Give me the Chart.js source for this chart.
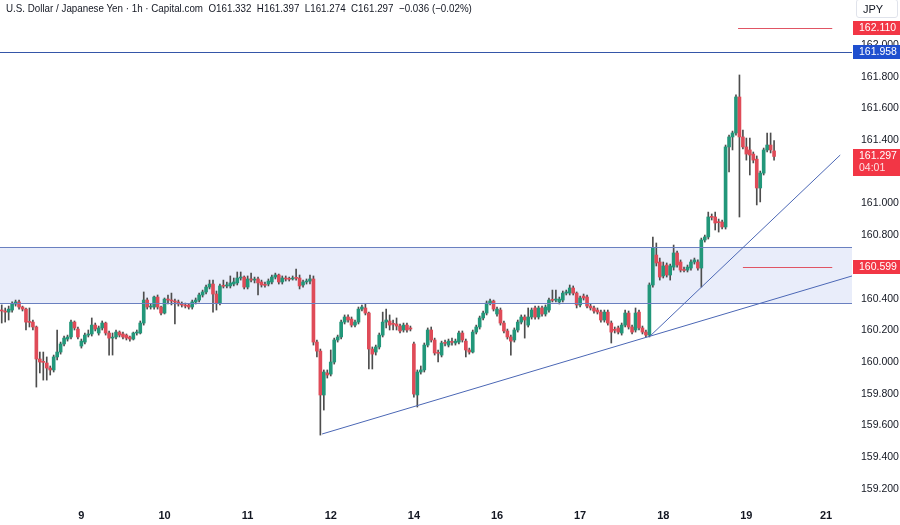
<!DOCTYPE html>
<html>
<head>
<meta charset="utf-8">
<script src="https://cdn.jsdelivr.net/npm/chart.js@4.4.1/dist/chart.umd.min.js"></script>
<style>
  html, body { margin: 0; padding: 0; background: #fff; }
  #wrap { position: relative; width: 900px; height: 525px; overflow: hidden; }
  #header { position: absolute; left: 6px; top: 2px; font: 11px "Liberation Sans", Arial, sans-serif; color: #131722; white-space: pre; transform: scaleX(0.89); transform-origin: 0 0; }
  #unit { position: absolute; left: 856px; top: -1px; width: 42px; height: 19px; border: 1px solid #e0e3eb; border-radius: 3px; box-sizing: border-box; font: 11px "Liberation Sans", Arial, sans-serif; color: #131722; padding: 3px 0 0 6px; }
</style>
</head>
<body>
<div id="wrap">
  <canvas id="chart" width="900" height="525"></canvas>
  <div id="header">U.S. Dollar / Japanese Yen · 1h · Capital.com  O161.332  H161.397  L161.274  C161.297  −0.036 (−0.02%)</div>
  <div id="unit">JPY</div>
</div>
<script>
// hourly candles
const open = [
160.328,160.322,160.315,160.328,160.366,160.379,160.347,160.334,160.252,160.252,
160.221,160.019,160.000,159.994,159.962,159.950,160.032,160.063,160.114,160.145,
160.158,160.252,160.208,160.101,160.126,160.170,160.177,160.233,160.183,160.215,
160.246,160.183,160.151,160.158,160.189,160.177,160.170,160.158,160.145,160.183,
160.183,160.246,160.391,160.347,160.347,160.410,160.347,160.309,160.397,160.391,
160.385,160.379,160.366,160.360,160.360,160.347,160.379,160.391,160.423,160.442,
160.473,160.492,160.429,160.372,160.480,160.480,160.480,160.492,160.499,160.530,
160.536,160.473,160.524,160.517,160.524,160.505,160.486,160.492,160.505,160.536,
160.549,160.505,160.530,160.524,160.524,160.530,160.530,160.486,160.505,160.511,
160.524,160.126,160.069,159.792,159.931,159.924,160.000,160.139,160.158,160.252,
160.284,160.271,160.233,160.252,160.334,160.341,160.309,160.082,160.063,160.095,
160.170,160.252,160.259,160.240,160.240,160.227,160.202,160.233,160.215,160.114,
159.792,159.937,159.950,160.107,160.202,160.139,160.057,160.044,160.120,160.107,
160.126,160.120,160.126,160.183,160.132,160.076,160.063,160.189,160.221,160.278,
160.309,160.372,160.385,160.303,160.328,160.246,160.196,160.158,160.139,160.202,
160.252,160.284,160.233,160.284,160.341,160.284,160.341,160.303,160.328,160.391,
160.391,160.379,160.391,160.435,160.435,160.467,160.435,160.360,160.416,160.410,
160.353,160.341,160.328,160.315,160.265,160.315,160.246,160.202,160.215,160.183,
160.233,160.309,160.221,160.202,160.315,160.215,160.189,160.170,160.486,160.675,
160.631,160.543,160.612,160.549,160.599,160.688,160.631,160.580,160.580,160.593,
160.631,160.631,160.593,160.770,160.789,160.915,160.915,160.883,160.883,160.852,
161.357,161.420,161.445,161.672,161.420,161.357,161.338,161.312,161.280,161.098,
161.192,161.338,161.369,161.332
];
const high = [
160.360,160.341,160.353,160.379,160.391,160.391,160.353,160.341,160.341,160.265,
160.227,160.063,160.063,160.032,159.975,160.044,160.202,160.126,160.164,160.170,
160.265,160.259,160.221,160.145,160.183,160.202,160.278,160.246,160.227,160.259,
160.252,160.196,160.183,160.202,160.196,160.189,160.177,160.164,160.189,160.202,
160.259,160.442,160.404,160.366,160.416,160.423,160.353,160.404,160.423,160.435,
160.397,160.391,160.379,160.372,160.366,160.391,160.404,160.435,160.454,160.486,
160.517,160.517,160.448,160.492,160.517,160.505,160.543,160.530,160.568,160.568,
160.543,160.543,160.561,160.536,160.536,160.517,160.505,160.524,160.549,160.561,
160.555,160.543,160.543,160.536,160.543,160.587,160.549,160.517,160.524,160.549,
160.543,160.139,160.082,159.950,159.950,160.076,160.151,160.170,160.265,160.297,
160.297,160.284,160.265,160.347,160.360,160.366,160.315,160.095,160.107,160.183,
160.315,160.334,160.297,160.265,160.278,160.240,160.246,160.246,160.227,160.126,
159.950,159.975,160.120,160.215,160.221,160.151,160.076,160.132,160.139,160.145,
160.151,160.145,160.196,160.196,160.145,160.088,160.202,160.233,160.290,160.322,
160.385,160.397,160.391,160.347,160.341,160.259,160.208,160.170,160.215,160.265,
160.297,160.297,160.341,160.341,160.353,160.353,160.353,160.360,160.404,160.454,
160.454,160.410,160.448,160.454,160.486,160.480,160.442,160.416,160.429,160.423,
160.366,160.353,160.341,160.328,160.328,160.328,160.259,160.221,160.227,160.246,
160.328,160.322,160.233,160.341,160.328,160.227,160.202,160.499,160.789,160.751,
160.656,160.631,160.625,160.618,160.738,160.700,160.644,160.599,160.612,160.644,
160.656,160.644,160.782,160.801,160.946,160.934,160.946,160.902,160.896,161.369,
161.432,161.457,161.685,161.811,161.464,161.413,161.413,161.325,161.300,161.205,
161.350,161.445,161.445,161.397
];
const low = [
160.246,160.252,160.265,160.315,160.353,160.334,160.322,160.202,160.221,160.202,
159.842,159.931,159.886,159.886,159.918,159.937,160.013,160.050,160.101,160.132,
160.145,160.202,160.145,160.088,160.114,160.158,160.164,160.196,160.170,160.202,
160.170,160.044,160.044,160.145,160.158,160.145,160.139,160.132,160.139,160.170,
160.177,160.233,160.334,160.334,160.334,160.334,160.297,160.303,160.366,160.360,
160.240,160.353,160.347,160.341,160.334,160.334,160.366,160.379,160.410,160.429,
160.461,160.315,160.328,160.360,160.467,160.467,160.467,160.480,160.486,160.517,
160.461,160.461,160.505,160.499,160.423,160.473,160.473,160.480,160.492,160.524,
160.492,160.492,160.511,160.511,160.517,160.517,160.461,160.473,160.492,160.492,
160.107,160.032,159.539,159.697,159.899,159.912,159.987,160.126,160.145,160.240,
160.252,160.221,160.221,160.240,160.322,160.297,159.956,159.956,160.044,160.082,
160.158,160.215,160.202,160.202,160.202,160.183,160.189,160.189,160.196,159.779,
159.716,159.924,159.937,160.095,160.126,160.044,160.000,160.032,160.101,160.095,
160.107,160.107,160.114,160.126,160.032,160.050,160.057,160.177,160.208,160.265,
160.297,160.360,160.322,160.290,160.233,160.183,160.145,160.044,160.126,160.189,
160.240,160.151,160.221,160.271,160.271,160.271,160.290,160.290,160.315,160.379,
160.379,160.366,160.379,160.423,160.423,160.423,160.341,160.347,160.391,160.341,
160.328,160.309,160.303,160.252,160.252,160.233,160.120,160.183,160.177,160.170,
160.221,160.208,160.177,160.189,160.202,160.177,160.158,160.158,160.473,160.606,
160.517,160.530,160.536,160.517,160.580,160.599,160.568,160.568,160.568,160.580,
160.618,160.580,160.473,160.757,160.776,160.896,160.833,160.820,160.839,160.839,
161.199,161.338,161.432,160.915,161.344,161.274,161.180,161.256,160.991,161.010,
161.180,161.325,161.319,161.274
];
const close = [
160.322,160.315,160.334,160.366,160.379,160.347,160.334,160.252,160.250,160.221,
160.019,160.000,159.998,159.962,159.950,160.032,160.063,160.114,160.151,160.158,
160.252,160.215,160.158,160.132,160.170,160.177,160.233,160.208,160.215,160.246,
160.183,160.151,160.153,160.189,160.170,160.158,160.151,160.145,160.183,160.189,
160.246,160.391,160.347,160.349,160.410,160.347,160.309,160.397,160.391,160.385,
160.379,160.366,160.360,160.353,160.347,160.379,160.391,160.423,160.442,160.473,
160.492,160.429,160.372,160.480,160.478,160.486,160.499,160.505,160.530,160.536,
160.473,160.524,160.517,160.519,160.499,160.486,160.484,160.511,160.536,160.549,
160.505,160.530,160.524,160.522,160.530,160.528,160.480,160.505,160.511,160.524,
160.126,160.069,159.792,159.937,159.918,160.000,160.139,160.158,160.252,160.284,
160.265,160.233,160.252,160.334,160.347,160.309,160.082,160.050,160.095,160.170,
160.252,160.265,160.233,160.238,160.227,160.196,160.233,160.202,160.208,159.798,
159.937,159.950,160.107,160.202,160.139,160.057,160.055,160.120,160.118,160.132,
160.124,160.132,160.183,160.139,160.076,160.063,160.189,160.221,160.278,160.309,
160.372,160.385,160.334,160.334,160.246,160.196,160.158,160.132,160.202,160.252,
160.284,160.265,160.284,160.328,160.284,160.341,160.303,160.347,160.391,160.389,
160.393,160.397,160.435,160.442,160.467,160.435,160.360,160.404,160.404,160.353,
160.341,160.322,160.315,160.265,160.315,160.246,160.189,160.200,160.189,160.233,
160.309,160.221,160.189,160.309,160.215,160.189,160.170,160.486,160.719,160.625,
160.536,160.606,160.549,160.606,160.688,160.612,160.580,160.578,160.599,160.631,
160.644,160.593,160.770,160.789,160.915,160.913,160.877,160.879,160.852,161.357,
161.420,161.445,161.672,161.420,161.357,161.312,161.306,161.274,161.098,161.192,
161.338,161.369,161.338,161.297
];

// x axis: hourly slots incl. empty future space, day labels
const slotCount = 246;
const dayLabels = ['9', '10', '11', '12', '14', '16', '17', '18', '19', '21'];
const dayIndex = [23, 47, 71, 95, 119, 143, 167, 191, 215, 238];

// price axis
const priceMin = 159.098, priceMax = 162.284;

// drawings
const zoneLow = 160.372, zoneHigh = 160.726;
const levelLine = 161.958;
const redLevels = [162.110, 160.599];
const redLineStart = [212.6, 214.0], redLineEnd = [239.8, 239.8];
const trendA = [[92.5, 159.546], [245.5, 160.543]];
const trendB = [[187.2, 160.164], [242.1, 161.306]];
const lastPrice = 161.297, countdown = '04:01';

const labels = [];
for (let i = 0; i < slotCount; i++) labels.push('');
dayIndex.forEach(function(ix, k) { labels[ix] = dayLabels[k]; });

const up = open.map(function(o, i) { return close[i] >= o; });
const bodies = open.map(function(o, i) { return [o, close[i]]; });
const wicks = low.map(function(l, i) { return [l, high[i]]; });

const FONT = '"Liberation Sans", Arial, sans-serif';

function hline(ctx, x1, x2, y, color) {
    ctx.strokeStyle = color;
    ctx.lineWidth = 1;
    ctx.beginPath();
    ctx.moveTo(x1, Math.round(y) + 0.5);
    ctx.lineTo(x2, Math.round(y) + 0.5);
    ctx.stroke();
}

function tag(ctx, x, yPix, text, color, sub) {
    const h = sub ? 27 : 14;
    ctx.fillStyle = color;
    ctx.fillRect(x, Math.round(yPix) - 7, 900 - x, h);
    ctx.fillStyle = '#ffffff';
    ctx.font = '10.5px ' + FONT;
    ctx.textBaseline = 'middle';
    ctx.textAlign = 'left';
    ctx.fillText(text, x + 6, Math.round(yPix) + 0.5);
    if (sub) {
        ctx.fillStyle = 'rgba(255,255,255,0.85)';
        ctx.fillText(sub, x + 6, Math.round(yPix) + 12.5);
    }
}

// drop the label padding chart.js adds so the plot fills the canvas
function noPad(s) {
    s.paddingTop = 0; s.paddingBottom = 0; s.paddingLeft = 0; s.paddingRight = 0;
}

const overlay = {
    id: 'overlay',
    beforeDatasetsDraw(chart) {
        const ctx = chart.ctx, a = chart.chartArea, y = chart.scales.y;
        const t = y.getPixelForValue(zoneHigh), b = y.getPixelForValue(zoneLow);
        ctx.save();
        ctx.fillStyle = 'rgba(41, 82, 204, 0.10)';
        ctx.fillRect(a.left, t, a.right - a.left, b - t);
        ctx.restore();
    },
    afterDatasetsDraw(chart) {
        const ctx = chart.ctx, a = chart.chartArea, x = chart.scales.x, y = chart.scales.y;
        ctx.save();
        hline(ctx, a.left, a.right, y.getPixelForValue(zoneHigh), '#6a80c0');
        hline(ctx, a.left, a.right, y.getPixelForValue(zoneLow), '#6a80c0');
        hline(ctx, a.left, a.right, y.getPixelForValue(levelLine), '#3556a8');
        redLevels.forEach(function(v, k) {
            hline(ctx, x.getPixelForValue(redLineStart[k]), x.getPixelForValue(redLineEnd[k]), y.getPixelForValue(v), '#e05564');
        });
        ctx.strokeStyle = '#4b67b5';
        ctx.lineWidth = 1;
        [trendA, trendB].forEach(function(t) {
            ctx.beginPath();
            ctx.moveTo(x.getPixelForValue(t[0][0]), y.getPixelForValue(t[0][1]));
            ctx.lineTo(x.getPixelForValue(t[1][0]), y.getPixelForValue(t[1][1]));
            ctx.stroke();
        });
        ctx.restore();
    },
    afterDraw(chart) {
        const ctx = chart.ctx, a = chart.chartArea, y = chart.scales.y;
        ctx.save();
        const x0 = Math.round(a.right) + 1;
        tag(ctx, x0, y.getPixelForValue(redLevels[0]), redLevels[0].toFixed(3), '#f23645');
        tag(ctx, x0, y.getPixelForValue(levelLine), levelLine.toFixed(3), '#1f4fcf');
        tag(ctx, x0, y.getPixelForValue(lastPrice), lastPrice.toFixed(3), '#f23645', countdown);
        tag(ctx, x0, y.getPixelForValue(redLevels[1]), redLevels[1].toFixed(3), '#f23645');
        ctx.restore();
    }
};

new Chart(document.getElementById('chart'), {
    type: 'bar',
    data: {
        labels: labels,
        datasets: [
            { data: bodies, backgroundColor: up.map(function(u) { return u ? '#22977a' : '#df4b58'; }),
              borderWidth: 0, barThickness: 3, minBarLength: 1, grouped: false, order: 1 },
            { data: wicks, backgroundColor: '#4d4d4d', barThickness: 1, grouped: false, order: 2 }
        ]
    },
    plugins: [overlay],
    options: {
        responsive: false,
        animation: false,
        devicePixelRatio: 1,
        layout: { padding: 0 },
        plugins: { legend: { display: false }, tooltip: { enabled: false } },
        scales: {
            x: {
                offset: true,
                grid: { display: false, drawTicks: false },
                border: { display: false },
                ticks: { autoSkip: false, maxRotation: 0, padding: 4, color: '#131722', font: { family: FONT, size: 11, weight: 'bold' } },
                afterFit: function(s) { s.height = 20; noPad(s); }
            },
            y: {
                position: 'right',
                min: priceMin,
                max: priceMax,
                grid: { display: false, drawTicks: false },
                border: { display: false },
                ticks: {
                    stepSize: 0.2, padding: 9, color: '#131722', font: { family: FONT, size: 10.5 },
                    callback: function(v) {
                        if (v > 162.05 || Math.abs(v * 5 - Math.round(v * 5)) > 1e-6) return '';
                        return v.toFixed(3);
                    }
                },
                afterFit: function(s) { s.width = 48; noPad(s); }
            }
        }
    }
});
</script>
</body>
</html>
